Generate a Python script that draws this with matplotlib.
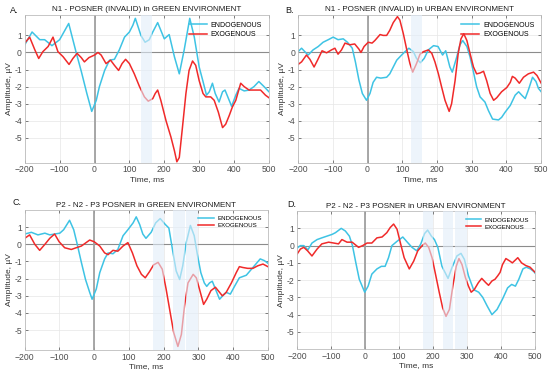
import matplotlib
matplotlib.use("Agg")
import matplotlib.pyplot as plt

plt.rcParams["font.family"] = ["Liberation Sans", "DejaVu Sans"]

# ---- data (time in ms, amplitude in uV) ----
a_endo_t = [-200, -179, -157, -143, -122, -100, -74, -52, -38, -22, -8, 5, 14, 29, 43, 57, 71, 86, 100, 110, 117,
            133, 145, 157, 167, 181, 200, 214, 229, 243, 257, 273, 286, 300, 311, 321, 329, 338, 346, 357, 367, 374,
            384, 393, 405, 414, 429, 443, 457, 471, 486, 500]
a_endo_v = [0.45, 1.2, 0.75, 0.75, 0.4, 0.75, 1.7, -0.05, -1.1, -2.4, -3.45, -2.8, -2.0, -1.05, -0.45, -0.4, 0.15,
            0.9, 1.2, 1.6, 2.0, 1.0, 0.6, 0.75, 1.2, 1.75, 0.8, 1.05, -0.25, -1.25, 0.15, 2.0, 0.9, -0.85, -1.7,
            -2.5, -2.3, -1.8, -2.4, -2.9, -2.3, -2.2, -2.7, -3.15, -2.5, -2.1, -2.25, -2.2, -2.0, -1.7, -2.0, -2.3]
a_exo_t = [-200, -186, -171, -160, -148, -133, -119, -105, -90, -73, -62, -50, -38, -29, -16, 0, 10, 19, 33, 46, 57,
           69, 79, 89, 100, 114, 129, 143, 154, 167, 174, 181, 190, 205, 219, 229, 236, 243, 252, 262, 271, 281,
           290, 300, 311, 319, 333, 343, 355, 367, 376, 386, 395, 405, 419, 429, 443, 462, 476, 490, 500]
a_exo_v = [0.55, 0.9, 0.15, -0.35, 0.05, 0.35, 0.9, 0.05, -0.25, -0.7, -0.35, -0.05, -0.3, -0.55, -0.3, -0.15, 0.0,
           -0.15, -0.65, -0.45, -0.75, -1.05, -0.65, -0.4, -0.65, -1.25, -2.0, -2.6, -2.85, -2.7, -2.4, -2.2, -2.8,
           -4.0, -4.95, -5.75, -6.4, -6.15, -4.4, -2.4, -1.05, -0.5, -0.75, -1.65, -2.4, -2.6, -2.6, -2.8, -3.5,
           -4.4, -4.2, -3.7, -3.2, -2.8, -1.8, -2.0, -2.2, -2.2, -2.2, -2.5, -2.65]

b_endo_t = [-200, -190, -176, -171, -157, -142, -128, -113, -99, -85, -70, -58, -44, -35, -25, -15, -3, 7, 16, 26,
            38, 55, 64, 74, 84, 98, 108, 119, 132, 141, 152, 163, 175, 190, 203, 216, 225, 237, 244, 257, 266, 274,
            286, 295, 305, 314, 324, 338, 348, 360, 377, 386, 396, 411, 425, 435, 444, 454, 463, 475, 485, 492, 500]
b_endo_v = [0.05, 0.25, -0.05, -0.15, 0.15, 0.35, 0.6, 0.75, 0.9, 0.75, 0.8, 0.6, 0.25, -0.55, -1.6, -2.4, -2.8,
            -2.4, -1.75, -1.45, -1.5, -1.45, -1.25, -0.85, -0.45, -0.15, 0.05, 0.25, 0.05, -0.35, -0.6, -0.35, 0.15,
            0.4, 0.35, -0.15, 0.1, -0.85, -1.15, -0.25, 0.45, 0.7, 0.35, -0.25, -1.15, -2.0, -2.6, -2.9, -3.4, -3.9,
            -3.95, -3.8, -3.5, -3.1, -2.5, -2.3, -2.5, -2.7, -2.2, -1.45, -1.7, -2.1, -2.3]
b_exo_t = [-200, -190, -176, -166, -154, -144, -131, -118, -104, -94, -85, -75, -65, -51, -37, -25, -19, -10, 2, 13,
           21, 36, 45, 55, 64, 74, 86, 93, 103, 113, 122, 130, 141, 151, 161, 175, 185, 194, 204, 213, 223, 235,
           242, 252, 261, 269, 277, 286, 295, 305, 314, 324, 334, 343, 353, 363, 372, 386, 401, 411, 417, 425, 437,
           449, 463, 478, 488, 500]
b_exo_v = [-0.7, -0.55, -0.15, -0.4, -0.85, -0.45, 0.1, -0.02, 0.15, 0.25, -0.1, 0.15, 0.55, 0.45, 0.5, 0.2, 0.0,
           0.35, 0.6, 0.55, 0.7, 1.05, 1.0, 1.0, 1.3, 1.75, 2.1, 1.9, 1.1, 0.15, -0.65, -1.15, -0.65, -0.1, 0.05,
           0.15, -0.05, -0.55, -1.25, -2.0, -2.8, -3.45, -3.0, -1.65, -0.05, 0.8, 1.1, 0.7, -0.05, -0.85, -1.25,
           -1.2, -1.1, -1.65, -2.4, -2.8, -2.65, -2.3, -2.05, -1.75, -1.4, -1.5, -1.8, -1.45, -1.25, -1.15, -1.35,
           -1.8]

c_endo_t = [-200, -181, -162, -142, -128, -114, -99, -88, -71, -59, -50, -37, -25, -13, -6, 6, 16, 30, 40, 54, 68,
            83, 97, 112, 121, 131, 140, 149, 164, 177, 190, 205, 215, 227, 236, 246, 255, 265, 277, 288, 298, 307,
            317, 324, 332, 340, 349, 361, 370, 380, 392, 404, 418, 438, 457, 478, 490, 500]
c_endo_v = [0.6, 0.7, 0.55, 0.65, 0.55, 0.6, 0.65, 0.85, 1.4, 0.85, 0.1, -1.05, -2.05, -2.8, -3.2, -2.6, -1.65,
            -0.85, -0.5, -0.55, -0.3, 0.5, 0.85, 1.25, 1.6, 1.15, 0.6, 0.35, 0.7, 1.25, 1.5, 1.15, 0.95, -0.5, -1.55,
            -2.05, -1.25, 0.1, 1.1, 0.5, -0.7, -1.65, -2.25, -2.45, -2.25, -2.15, -2.6, -3.2, -3.0, -2.8, -2.9,
            -2.45, -1.95, -1.8, -1.35, -0.85, -0.95, -1.1]
c_exo_t = [-200, -186, -171, -157, -142, -128, -114, -101, -85, -66, -52, -37, -13, 0, 16, 30, 40, 54, 68, 83, 97,
           110, 123, 136, 147, 159, 171, 184, 196, 207, 219, 229, 241, 251, 260, 270, 285, 294, 303, 315, 324, 336,
           349, 361, 369, 380, 395, 409, 418, 428, 442, 457, 471, 486, 500]
c_exo_v = [0.35, 0.55, 0.0, -0.35, 0.0, 0.35, 0.6, 0.15, -0.2, -0.3, -0.2, -0.1, 0.25, 0.15, -0.1, -0.5, -0.6,
           -0.35, -0.4, -0.1, 0.1, -0.5, -1.25, -1.75, -1.95, -1.6, -1.2, -1.05, -1.45, -2.6, -4.0, -5.15, -5.95,
           -5.25, -3.6, -2.25, -1.75, -1.95, -2.6, -3.5, -3.2, -2.7, -2.5, -2.8, -3.0, -2.8, -2.25, -1.65, -1.3,
           -1.35, -1.4, -1.4, -1.25, -1.15, -1.3]

d_endo_t = [-200, -190, -180, -168, -156, -141, -127, -112, -97, -87, -70, -58, -46, -37, -27, -17, -1, 9, 20, 35,
            48, 59, 69, 79, 94, 111, 122, 138, 152, 164, 175, 184, 195, 204, 214, 226, 244, 255, 270, 282, 292, 304,
            319, 334, 346, 359, 373, 388, 404, 419, 431, 442, 452, 464, 474, 486, 496, 500]
d_endo_v = [-0.15, 0.0, 0.0, -0.25, 0.15, 0.35, 0.45, 0.55, 0.65, 0.75, 1.0, 0.85, 0.55, 0.0, -1.0, -1.95, -2.7,
            -2.35, -1.65, -1.35, -1.2, -1.2, -0.7, 0.0, 0.25, 0.5, 0.25, -0.1, -0.3, 0.1, 0.7, 0.9, 0.55, 0.35,
            -0.1, -1.2, -1.9, -1.3, -0.6, -0.45, -0.8, -1.75, -2.55, -2.7, -3.0, -3.5, -4.0, -3.7, -3.1, -2.45,
            -2.25, -2.35, -1.95, -1.35, -1.25, -1.35, -1.5, -1.6]
d_exo_t = [-200, -190, -180, -169, -156, -141, -127, -107, -92, -78, -68, -53, -38, -19, -7, 6, 20, 35, 50, 64, 74,
           84, 94, 104, 115, 130, 143, 155, 168, 177, 187, 197, 206, 218, 228, 238, 248, 258, 268, 276, 285, 295,
           304, 312, 321, 333, 343, 355, 363, 373, 382, 390, 397, 404, 414, 426, 433, 449, 460, 472, 485, 500]
d_exo_v = [-0.5, -0.2, -0.1, -0.3, -0.6, -0.2, 0.1, 0.2, 0.15, 0.1, 0.35, 0.2, 0.2, -0.1, 0.0, 0.15, 0.15, 0.45,
           0.5, 0.75, 1.05, 1.25, 0.95, 0.15, -0.7, -1.35, -0.9, -0.3, 0.0, 0.15, -0.1, -0.7, -1.55, -2.7, -3.6,
           -4.1, -3.7, -2.35, -1.2, -0.75, -1.1, -1.85, -2.35, -2.7, -2.55, -2.15, -1.9, -2.15, -2.3, -2.05, -1.95,
           -1.75, -1.55, -1.1, -0.75, -0.9, -1.0, -0.7, -1.0, -1.15, -1.25, -1.55]

titles = ["N1 - POSNER (INVALID) in GREEN ENVIRONMENT", "N1 - POSNER (INVALID) in URBAN ENVIRONMENT",
          "P2 - N2 - P3 POSNER in GREEN ENVIRONMENT", "P2 - N2 - P3 POSNER in URBAN ENVIRONMENT"]
letters = ["A.", "B.", "C.", "D."]
bands_n1 = [[(133, 165)], [(125, 158)]]
bands_p3 = [(170, 200), (228, 260), (265, 300)]
series_labels = ["ENDOGENOUS", "EXOGENOUS"]

ENDO = "#3ec3e4"
EXO = "#f02a2a"

fig = plt.figure(figsize=(5.5, 3.73), dpi=100)

panels = [
    dict(rect=[0.045, 0.564, 0.444, 0.396], ylim=(-6.45, 2.2), bands=bands_n1[0], leg=5.0,
         data=(a_endo_t, a_endo_v, a_exo_t, a_exo_v), letter_xy=(0.018, 0.972)),
    dict(rect=[0.542, 0.564, 0.442, 0.396], ylim=(-6.45, 2.2), bands=bands_n1[1], leg=5.0,
         data=(b_endo_t, b_endo_v, b_exo_t, b_exo_v), letter_xy=(0.518, 0.972)),
    dict(rect=[0.045, 0.062, 0.442, 0.375], ylim=(-6.15, 2.0), bands=bands_p3, leg=4.4,
         data=(c_endo_t, c_endo_v, c_exo_t, c_exo_v), letter_xy=(0.022, 0.458)),
    dict(rect=[0.540, 0.064, 0.433, 0.370], ylim=(-6.0, 2.0), bands=bands_p3, leg=4.4,
         data=(d_endo_t, d_endo_v, d_exo_t, d_exo_v), letter_xy=(0.522, 0.452)),
]

for i, p in enumerate(panels):
    ax = fig.add_axes(p["rect"])
    et, ev, xt, xv = p["data"]

    ax.axhline(0, color="#8c8c8c", lw=0.8, zorder=1)
    ax.axvline(0, color="#a0a0a0", lw=1.3, zorder=1)
    ax.plot(et, ev, color=ENDO, lw=1.1, label=series_labels[0], zorder=2)
    ax.plot(xt, xv, color=EXO, lw=1.1, label=series_labels[1], zorder=2)
    for lo, hi in p["bands"]:
        ax.axvspan(lo, hi, color="#e2edf9", alpha=0.6, lw=0, zorder=3)

    ax.set_xlim(-200, 500)
    ax.set_ylim(*p["ylim"])
    ax.set_xticks(range(-200, 501, 100))
    ax.set_yticks(range(-5, 2))
    ax.set_xticklabels(["\u2212200", "\u2212100", "0", "100", "200", "300", "400", "500"])
    ax.set_yticklabels(["-5", "-4", "-3", "-2", "-1", "0", "1"])
    ax.grid(True, color="#e6e6e6", lw=0.5)
    ax.set_axisbelow(True)
    ax.tick_params(direction="in", length=2, width=0.5, labelsize=6.2, colors="#4d4d4d",
                   top=True, right=True, pad=2)
    for s in ax.spines.values():
        s.set_color("#bdbdbd")
        s.set_linewidth(0.6)

    ax.set_xlabel("Time, ms", fontsize=6.0, color="#333333", labelpad=1)
    ax.set_ylabel("Amplitude, \u00b5V", fontsize=6.0, color="#333333", labelpad=1)
    ax.set_title(titles[i], fontsize=5.8, color="#1a1a1a", pad=2.5)
    ax.legend(loc="upper right", frameon=False, fontsize=p["leg"], handlelength=2.6,
              borderaxespad=0.6, labelspacing=0.3, handletextpad=0.5)
    fig.text(*p["letter_xy"], letters[i], fontsize=6.5, color="#1a1a1a", ha="left", va="center")

fig.savefig("out.png", dpi=100)
